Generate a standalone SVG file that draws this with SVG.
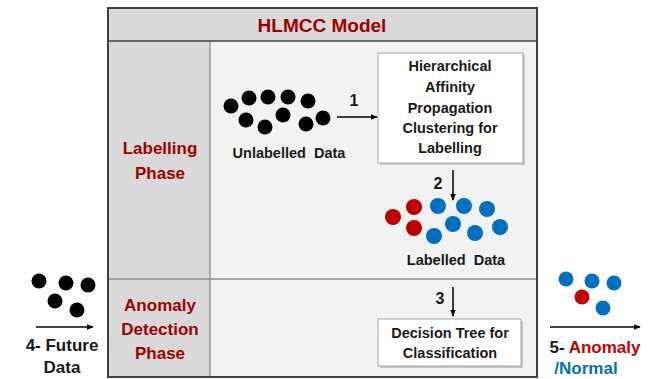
<svg xmlns="http://www.w3.org/2000/svg" width="657" height="379" viewBox="0 0 657 379">
<defs>
<marker id="ah" viewBox="0 0 10 10" refX="9" refY="5" markerWidth="7" markerHeight="7" markerUnits="userSpaceOnUse" orient="auto"><path d="M0,1 L10,5 L0,9 z" fill="#000"/></marker>
<style>
text{font-family:"Liberation Sans",Arial,sans-serif;font-weight:bold;text-anchor:middle;white-space:pre}
.t{font-size:14.5px;fill:#1a1a1a}
.ph{font-size:17px;fill:#A00000}
.big{font-size:17px;fill:#1a1a1a}
.num{font-size:16px;fill:#1a1a1a}
.k{fill:#000}
.b{fill:#0070C0}
.r{fill:#C00000}
.box{fill:#fff;stroke:#a6a6a6;stroke-width:1}
.sh{fill:#c8c8c8}
.ln{stroke:#000;stroke-width:1.5;fill:none;marker-end:url(#ah)}
</style>
</defs>
<rect width="657" height="379" fill="#fff"/>
<g id="frame">
<rect x="108" y="8" width="429" height="33" fill="#d9d9d9"/>
<rect x="108" y="41" width="102" height="336" fill="#d9d9d9"/>
<rect x="210" y="41" width="327" height="336" fill="#f2f2f2"/>
<line x1="210" y1="41" x2="210" y2="377" stroke="#8c8c8c" stroke-width="1.2"/>
<line x1="108" y1="279" x2="537" y2="279" stroke="#8c8c8c" stroke-width="1.5"/>
<line x1="108" y1="41" x2="537" y2="41" stroke="#404040" stroke-width="1.5"/>
<rect x="108" y="8" width="429" height="369" fill="none" stroke="#404040" stroke-width="2"/>
<text x="322" y="32" style="font-size:19px;fill:#A00000">HLMCC Model</text>
<text x="160" y="154" class="ph">Labelling</text>
<text x="160" y="179" class="ph">Phase</text>
<text x="160" y="311" class="ph">Anomaly</text>
<text x="160" y="335" class="ph">Detection</text>
<text x="160" y="359" class="ph">Phase</text>
</g>
<g id="unlabelled">
<circle cx="231" cy="106" r="7.5" class="k"/>
<circle cx="249" cy="98" r="7.5" class="k"/>
<circle cx="268" cy="97" r="7.5" class="k"/>
<circle cx="288" cy="97" r="7.5" class="k"/>
<circle cx="308" cy="101" r="7.5" class="k"/>
<circle cx="246" cy="120" r="7.5" class="k"/>
<circle cx="265" cy="127" r="7.5" class="k"/>
<circle cx="283" cy="115" r="7.5" class="k"/>
<circle cx="306" cy="124" r="7.5" class="k"/>
<circle cx="323" cy="118" r="7.5" class="k"/>
<text x="289" y="158" class="t" xml:space="preserve">Unlabelled  Data</text>
</g>
<g id="hapc">
<rect x="380" y="55" width="145" height="110" class="sh"/>
<rect x="378" y="53" width="145" height="110" class="box"/>
<text x="450" y="71" class="t">Hierarchical</text>
<text x="450" y="92" class="t">Affinity</text>
<text x="450" y="113" class="t">Propagation</text>
<text x="450" y="133" class="t">Clustering for</text>
<text x="450" y="153" class="t">Labelling</text>
</g>
<g id="labelled">
<circle cx="393" cy="217" r="8" class="r"/>
<circle cx="414" cy="207" r="8" class="r"/>
<circle cx="414" cy="228" r="8" class="r"/>
<circle cx="438" cy="206" r="8" class="b"/>
<circle cx="464" cy="206" r="8" class="b"/>
<circle cx="487" cy="209" r="8" class="b"/>
<circle cx="453" cy="224" r="8" class="b"/>
<circle cx="434" cy="236" r="8" class="b"/>
<circle cx="475" cy="233" r="8" class="b"/>
<circle cx="500" cy="227" r="8" class="b"/>
<text x="456" y="265" class="t" xml:space="preserve">Labelled  Data</text>
</g>
<g id="decision">
<rect x="380" y="321" width="143" height="47" class="sh"/>
<rect x="378" y="319" width="143" height="47" class="box"/>
<text x="450" y="338" class="t">Decision Tree for</text>
<text x="450" y="358" class="t">Classification</text>
</g>
<g id="future">
<circle cx="39" cy="281" r="7.5" class="k"/>
<circle cx="66" cy="283" r="7.5" class="k"/>
<circle cx="88" cy="285" r="7.5" class="k"/>
<circle cx="55" cy="301" r="7.5" class="k"/>
<circle cx="77" cy="310" r="7.5" class="k"/>
<text x="62" y="351" class="big">4- Future</text>
<text x="62" y="373" class="big">Data</text>
</g>
<g id="output">
<circle cx="566" cy="279" r="7.5" class="b"/>
<circle cx="592" cy="281" r="7.5" class="b"/>
<circle cx="614" cy="283" r="7.5" class="b"/>
<circle cx="582" cy="297" r="7.5" class="r"/>
<circle cx="603" cy="308" r="7.5" class="b"/>
<text x="595" y="353" class="big">5- <tspan style="fill:#C00000">Anomaly</tspan></text>
<text x="586" y="374" class="big" style="fill:#0070C0">/Normal</text>
</g>
<g id="connectors">
<line x1="337" y1="117" x2="377" y2="117" class="ln"/>
<text x="354" y="106" class="num">1</text>
<line x1="453" y1="170" x2="453" y2="200" class="ln"/>
<text x="438" y="189" class="num">2</text>
<line x1="453" y1="287" x2="453" y2="316" class="ln"/>
<text x="440" y="304" class="num">3</text>
<line x1="36" y1="327" x2="93" y2="327" class="ln"/>
<line x1="550" y1="327" x2="640" y2="327" class="ln"/>
</g>
</svg>
